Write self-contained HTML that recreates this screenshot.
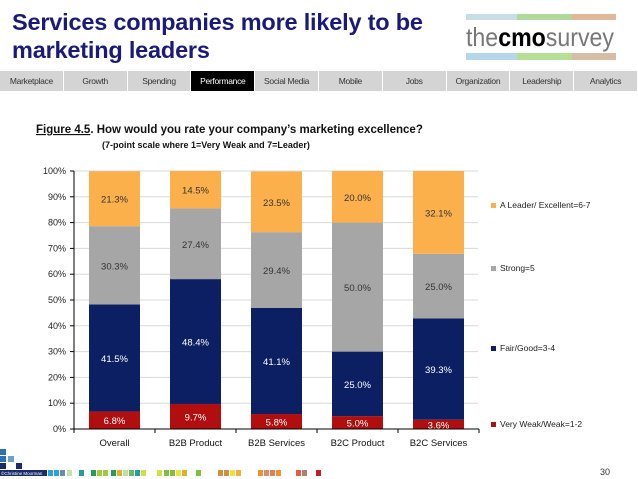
<!DOCTYPE html>
<html><head><meta charset="utf-8"><style>
body{margin:0;width:638px;height:479px;background:#fff;overflow:hidden;font-family:"Liberation Sans",sans-serif;position:relative}
.title{position:absolute;left:12px;top:8px;font-size:23.5px;font-weight:bold;color:#1a1a7a;line-height:28px;letter-spacing:-0.2px}
.nav{position:absolute;left:0;top:71px;width:638px;height:20px;display:flex}
.nav div{flex:1;background:#d4d4d4;border-right:1px solid #fff;font-size:8.5px;color:#333;text-align:center;line-height:20px;letter-spacing:-0.3px}
.nav div.on{background:#000;color:#fff}
.logo{position:absolute;left:462px;top:2px;width:176px;height:66px}
</style></head><body>
<div class="title">Services companies more likely to be<br>marketing leaders</div>
<div class="logo">
<svg width="176" height="66">
<g opacity="0.8"><rect x="4" y="12" width="150" height="6" fill="#7ab" opacity="0.5"/><rect x="55" y="12" width="55" height="6" fill="#8c4" opacity="0.6"/><rect x="110" y="12" width="44" height="6" fill="#e84" opacity="0.6"/>
<rect x="4" y="51" width="150" height="7" fill="#49c" opacity="0.5"/><rect x="55" y="51" width="55" height="7" fill="#ad3" opacity="0.6"/><rect x="110" y="51" width="44" height="7" fill="#e95" opacity="0.6"/></g>
<text x="4" y="44" font-size="26" font-family="Liberation Sans" fill="#777" textLength="148" lengthAdjust="spacingAndGlyphs">the<tspan font-weight="bold" fill="#000">cmo</tspan>survey</text>
</svg></div>
<div class="nav">
<div>Marketplace</div>
<div>Growth</div>
<div>Spending</div>
<div class="on">Performance</div>
<div>Social Media</div>
<div>Mobile</div>
<div>Jobs</div>
<div>Organization</div>
<div>Leadership</div>
<div>Analytics</div>
</div>
<svg id="chart" width="638" height="479" style="position:absolute;left:0;top:0" font-family="Liberation Sans">
<text x="36" y="133" font-size="11.5" font-weight="bold" fill="#111"><tspan text-decoration="underline">Figure 4.5</tspan>.  How would you rate your company’s marketing excellence?</text>
<text x="102" y="148" font-size="9" font-weight="bold" fill="#111">(7-point scale where 1=Very Weak and 7=Leader)</text>
<text x="600" y="475" font-size="9" fill="#333">30</text>
</svg>
<script>
const categories=["Overall","B2B Product","B2B Services","B2C Product","B2C Services"];
const veryWeak=[6.8,9.7,5.8,5.0,3.6];
const fairGood=[41.5,48.4,41.1,25.0,39.3];
const strong=[30.3,27.4,29.4,50.0,25.0];
const leader=[21.3,14.5,23.5,20.0,32.1];
const yTicks=[0,10,20,30,40,50,60,70,80,90,100];
const seriesNames=["Very Weak/Weak=1-2","Fair/Good=3-4","Strong=5","A Leader/ Excellent=6-7"];
const seriesColors=["#b10f0f","#0d1f63","#a6a6a6","#fbb04b"];
const series=[veryWeak,fairGood,strong,leader];
const NS="http://www.w3.org/2000/svg",svg=document.getElementById('chart');
const x0=74,band=81,bw=51,y0=429,y1=171;
const Y=v=>y0-(v/100)*(y0-y1);
const X=i=>x0+i*band+15;
function mk(t,a,p){const e=document.createElementNS(NS,t);for(const k in a)e.setAttribute(k,a[k]);(p||svg).appendChild(e);return e;}
yTicks.forEach(t=>{
 if(t>0){const g=mk('line',{x1:x0,x2:478,y1:Y(t),y2:Y(t),stroke:'#d9d9d9','stroke-width':1});
 
 }
 const k=mk('line',{x1:x0-4,x2:x0,y1:Y(t),y2:Y(t),stroke:'#000'});
 
 
 const l=mk('text',{x:x0-8,y:Y(t)+3,'font-size':9,'text-anchor':'end',fill:'#222'});l.textContent=t+'%';
 
 
});
categories.forEach((c,i)=>{
 let cum=0;
 series.forEach((s,j)=>{
  const v=s[i];
  const r=mk('rect',{x:X(i),y:Y(cum+v),width:bw,height:Y(cum)-Y(cum+v),fill:seriesColors[j]});
  
  
  const t=mk('text',{x:X(i)+bw/2,y:Y(cum+v/2)+4,'font-size':9.5,'text-anchor':'middle',fill:j<2?'#fff':'#333'});
  t.textContent=v.toFixed(1)+'%';
  
  
  cum+=v;
 });
 const l=mk('text',{x:X(i)+bw/2,y:446,'font-size':9.5,'text-anchor':'middle',fill:'#111'});l.textContent=c;
 
 
});
for(let i=0;i<=categories.length;i++){const k=mk('line',{x1:x0+i*band,x2:x0+i*band,y1:y0,y2:y0+4,stroke:'#000'});
 
 }
const ax=mk('line',{x1:x0,x2:x0,y1:y1,y2:y0,stroke:'#000'});


const bx=mk('line',{x1:x0,x2:x0+5*band,y1:y0,y2:y0,stroke:'#000'});


const legY=[427,351,271,208];
seriesNames.forEach((n,j)=>{
 const r=mk('rect',{x:491,y:legY[j]-5,width:5,height:5,fill:seriesColors[j]});
 
 
 const t=mk('text',{x:500,y:legY[j],'font-size':8.5,fill:'#222'});t.textContent=n;
 
 
});
const deco=[[0,449,'#2f6fb5'],[0,456,'#2f6fb5'],[8,456,'#6fa0c8'],[0,463,'#1a2a6a'],[16,463,'#1a2a6a']];
deco.forEach(d=>{const r=mk('rect',{x:d[0],y:d[1],width:6,height:6,fill:d[2]});
 
 });
const fc=['#29a3e0','#29a3e0','#6a8fa0','#c8e0b0','#20a0a0','#20a050','#a0c840','#a0c840','#20a050','#e0b030','#c0e0a0','#60c060','#20a0a0','#d0e040','#d0e040','#80c040','#80c040','#f0e040','#e0b030','#80c040','#d09040','#d09040','#f0e040','#f0b040','#f09030','#d09070','#e08050','#f09030','#e06040','#b08070','#c02030'];
const fx=[48,54,60,67,79,91,97,103,111,117,123,129,135,141,157,164,170,176,182,196,218,224,230,236,258,264,270,276,296,302,316];
fc.forEach((c,i)=>{const r=mk('rect',{x:fx[i],y:470,width:5,height:6,fill:c});
 
 });
const cb=mk('rect',{x:0,y:470,width:47,height:6,fill:'#1a2a6a'});


const ct=mk('text',{x:1,y:475,'font-size':4.5,fill:'#fff'});ct.textContent='©Christine Moorman';


</script>
</body></html>
